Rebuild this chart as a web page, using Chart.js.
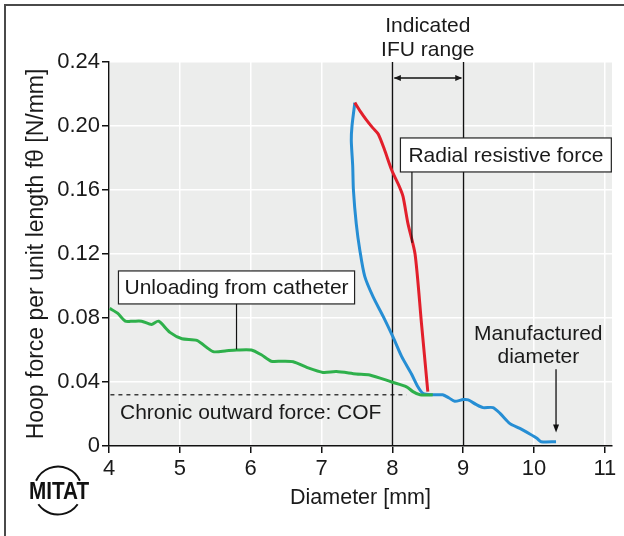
<!DOCTYPE html>
<html><head><meta charset="utf-8">
<script src="https://cdn.jsdelivr.net/npm/chart.js@4.4.1/dist/chart.umd.min.js"></script>
<style>html,body{margin:0;padding:0;background:#fff;}#wrap{position:relative;width:624px;height:536px;}</style>
</head><body><div id="wrap"><canvas id="c" width="624" height="536"></canvas></div>
<script>
// ---- data ----
const xTicks = [4, 5, 6, 7, 8, 9, 10, 11];
const yTicks = [0, 0.04, 0.08, 0.12, 0.16, 0.20, 0.24];

const unloadX = [4.01, 4.12, 4.23, 4.34, 4.46, 4.60, 4.70, 4.86, 5.03, 5.24, 5.47, 5.66, 5.80, 6.01, 6.15, 6.29, 6.44, 6.60, 6.80, 7.02, 7.21, 7.49, 7.68, 7.99, 8.20, 8.29, 8.39, 8.57];
const unloadY = [0.086, 0.083, 0.078, 0.078, 0.078, 0.076, 0.078, 0.071, 0.067, 0.066, 0.059, 0.0596, 0.060, 0.060, 0.057, 0.053, 0.053, 0.0527, 0.049, 0.046, 0.0465, 0.045, 0.0444, 0.040, 0.037, 0.034, 0.032, 0.032];

const crimpX = [7.47, 7.43, 7.42, 7.44, 7.45, 7.49, 7.54, 7.61, 7.73, 7.87, 8.01, 8.13, 8.27, 8.36, 8.43, 8.57, 8.71, 8.80, 8.88, 9.00, 9.07, 9.18, 9.28, 9.42, 9.52, 9.66, 9.80, 9.94, 10.04, 10.10, 10.31];
const crimpY = [0.2146, 0.200, 0.191, 0.175, 0.160, 0.139, 0.1225, 0.106, 0.093, 0.081, 0.068, 0.056, 0.045, 0.037, 0.033, 0.032, 0.032, 0.030, 0.028, 0.029, 0.0288, 0.026, 0.024, 0.024, 0.0204, 0.014, 0.011, 0.0075, 0.0048, 0.0027, 0.0027];

const rrfX = [7.47, 7.55, 7.63, 7.72, 7.80, 7.89, 7.99, 8.10, 8.15, 8.22, 8.32, 8.41, 8.50];
const rrfY = [0.2146, 0.209, 0.204, 0.199, 0.195, 0.185, 0.1725, 0.162, 0.156, 0.139, 0.120, 0.077, 0.034];

const ifuRange = [8, 9];
const cofValue = 0.032;
const manufacturedDiameter = 10.31;

const pts = (xs, ys) => xs.map((x, i) => ({x: x, y: ys[i]}));

const FONT = '"Liberation Sans", Arial, Helvetica, sans-serif';
const INK = '#1a1a1a';

function box(ctx, text, cx, cy, padX, h) {
  const w = ctx.measureText(text).width + padX * 2;
  ctx.fillStyle = '#fff';
  ctx.fillRect(cx - w / 2, cy - h / 2, w, h);
  ctx.strokeStyle = '#222';
  ctx.lineWidth = 1.2;
  ctx.strokeRect(cx - w / 2, cy - h / 2, w, h);
  ctx.fillStyle = INK;
  ctx.textAlign = 'center';
  ctx.textBaseline = 'middle';
  ctx.fillText(text, cx, cy + 1);
  return {bottom: cy + h / 2};
}
function line(ctx, x1, y1, x2, y2, w) {
  ctx.beginPath(); ctx.lineWidth = w; ctx.moveTo(x1, y1); ctx.lineTo(x2, y2); ctx.stroke();
}
function head(ctx, x, y, dir) {
  ctx.beginPath();
  if (dir === 'l') { ctx.moveTo(x, y); ctx.lineTo(x + 7, y - 3); ctx.lineTo(x + 7, y + 3); }
  if (dir === 'r') { ctx.moveTo(x, y); ctx.lineTo(x - 7, y - 3); ctx.lineTo(x - 7, y + 3); }
  if (dir === 'd') { ctx.moveTo(x, y); ctx.lineTo(x - 3, y - 8); ctx.lineTo(x + 3, y - 8); }
  ctx.closePath(); ctx.fill();
}

const annot = {
  id: 'annot',
  beforeDraw(chart) {
    const {ctx, chartArea: a} = chart;
    ctx.save();
    ctx.fillStyle = '#fff';
    ctx.fillRect(0, 0, chart.width, chart.height);
    ctx.fillStyle = '#ecedec';
    ctx.fillRect(a.left, a.top, a.right - a.left, a.bottom - a.top);
    ctx.strokeStyle = '#4a4a4a';
    ctx.lineWidth = 2;
    ctx.strokeRect(5, 5, 900, 900);
    ctx.restore();
  },
  beforeDatasetsDraw(chart) {
    const {ctx, scales: {x, y}} = chart;
    ctx.save();
    ctx.strokeStyle = '#111';
    ifuRange.forEach(v => line(ctx, Math.round(x.getPixelForValue(v)) + 0.5, y.getPixelForValue(0.24), Math.round(x.getPixelForValue(v)) + 0.5, y.getPixelForValue(0), 1.4));
    ctx.setLineDash([4, 4]);
    line(ctx, x.getPixelForValue(4.02), y.getPixelForValue(cofValue), x.getPixelForValue(8.2), y.getPixelForValue(cofValue), 1.2);
    ctx.setLineDash([]);
    ctx.restore();
  },
  afterDatasetsDraw(chart) {
    const {ctx, scales: {x, y}} = chart;
    const X = v => x.getPixelForValue(v), Y = v => y.getPixelForValue(v);
    ctx.save();
    ctx.font = '21px ' + FONT;
    ctx.fillStyle = INK;
    ctx.strokeStyle = '#111';
    ctx.textAlign = 'center';
    ctx.textBaseline = 'middle';
    const mid = (ifuRange[0] + ifuRange[1]) / 2;
    ctx.fillText('Indicated', X(mid), Y(0.2625));
    ctx.fillText('IFU range', X(mid), Y(0.2475));
    const ay = Y(0.230);
    line(ctx, X(ifuRange[0]) + 2, ay, X(ifuRange[1]) - 2, ay, 1.3);
    head(ctx, X(ifuRange[0]) + 1.5, ay, 'l');
    head(ctx, X(ifuRange[1]) - 1, ay, 'r');
    const b1 = box(ctx, 'Radial resistive force', X(9.602), Y(0.1819), 8, 34);
    ctx.strokeStyle = '#111';
    line(ctx, X(8.276), b1.bottom, X(8.276), Y(0.127), 1.2);
    const b2 = box(ctx, 'Unloading from catheter', X(5.80), Y(0.0991), 6, 33);
    ctx.strokeStyle = '#111';
    line(ctx, X(5.80), b2.bottom, X(5.80), Y(0.0604), 1.2);
    ctx.fillStyle = INK;
    ctx.textAlign = 'left';
    ctx.fillText('Chronic outward force: COF', X(4.155), Y(0.0206));
    ctx.textAlign = 'center';
    ctx.fillText('Manufactured', X(10.06), Y(0.070));
    ctx.fillText('diameter', X(10.06), Y(0.0556));
    line(ctx, X(manufacturedDiameter), Y(0.048), X(manufacturedDiameter), Y(0.011), 1.3);
    ctx.fillStyle = '#111';
    head(ctx, X(manufacturedDiameter), Y(0.0085), 'd');
    // MITAT logo
    ctx.strokeStyle = '#111';
    ctx.lineWidth = 2;
    const cx = 58, cy = 490.5, r = 24;
    ctx.beginPath(); ctx.arc(cx, cy, r, Math.PI * 204 / 180, Math.PI * 336 / 180); ctx.stroke();
    ctx.beginPath(); ctx.arc(cx, cy, r, Math.PI * 35 / 180, Math.PI * 145 / 180); ctx.stroke();
    ctx.save();
    ctx.translate(59, 492);
    ctx.scale(0.9, 1.05);
    ctx.font = 'bold 23px ' + FONT;
    ctx.fillStyle = '#111';
    ctx.textAlign = 'center';
    ctx.textBaseline = 'middle';
    ctx.fillText('MITAT', 0, 0);
    ctx.restore();
    ctx.restore();
  }
};

const gridOpts = {color: '#ffffff', lineWidth: 1.5, tickColor: '#111', tickLength: 7, drawTicks: true};
const borderOpts = {display: true, color: '#111', width: 1.4};

new Chart(document.getElementById('c'), {
  type: 'scatter',
  data: {
    datasets: [
      {label: 'Unloading from catheter', data: pts(unloadX, unloadY), borderColor: '#2eb04b', order: 1},
      {label: 'Radial resistive force', data: pts(rrfX, rrfY), borderColor: '#e21f2b', order: 2},
      {label: 'Crimp / expansion', data: pts(crimpX, crimpY), borderColor: '#268ed4', order: 3}
    ].map(d => Object.assign(d, {showLine: true, borderWidth: 3, pointRadius: 0, pointHoverRadius: 0, tension: 0.25, fill: false}))
  },
  options: {
    responsive: false,
    devicePixelRatio: 1,
    animation: false,
    events: [],
    layout: {padding: {left: 0, right: 12, top: 62, bottom: 0}},
    plugins: {legend: {display: false}, tooltip: {enabled: false}},
    scales: {
      x: {
        type: 'linear', min: 4, max: 11.1,
        afterBuildTicks: s => { s.ticks = xTicks.map(v => ({value: v})); },
        afterFit: s => { s.height = 90; },
        grid: gridOpts, border: borderOpts,
        ticks: {color: INK, font: {family: FONT, size: 22}, padding: 3, includeBounds: false, callback: v => String(v)},
        title: {display: true, text: 'Diameter [mm]', color: INK, font: {family: FONT, size: 21.5}, padding: {top: 0, bottom: 25}}
      },
      y: {
        type: 'linear', min: 0, max: 0.24,
        afterBuildTicks: s => { s.ticks = yTicks.map(v => ({value: v})); },
        afterFit: s => { s.width = 109; },
        grid: gridOpts, border: borderOpts,
        ticks: {color: INK, font: {family: FONT, size: 22}, padding: 2, callback: v => v === 0 ? '0' : v.toFixed(2)},
        title: {display: true, text: 'Hoop force per unit length f\u03B8 [N/mm]', color: INK, font: {family: FONT, size: 23}, padding: {top: 23, bottom: 0}}
      }
    }
  },
  plugins: [annot]
});
</script></body></html>
